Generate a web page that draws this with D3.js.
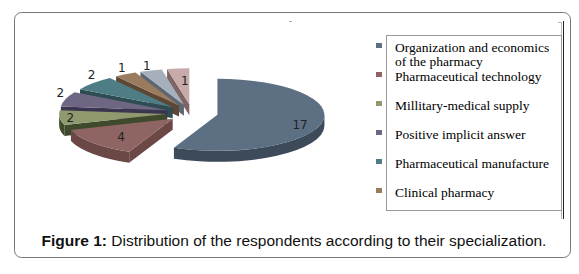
<!DOCTYPE html>
<html>
<head>
<meta charset="utf-8">
<script src="https://cdn.jsdelivr.net/npm/d3@7"></script>
<style>
  body { margin: 0; background: #fff; }
  svg { display: block; }
</style>
</head>
<body>
<svg id="chart" width="579" height="274"></svg>
<script>
// slice values, clockwise from 12 o'clock
var values = [17, 4, 2, 2, 2, 1, 1, 1];
// only the first six legend entries are visible in the figure
var legendLabels = [
  "Organization and economics of the pharmacy",
  "Pharmaceutical technology",
  "Millitary-medical supply",
  "Positive implicit answer",
  "Pharmaceutical manufacture",
  "Clinical pharmacy"
];
var topColors = ["#5d6f83", "#8f6563", "#8e9a6d", "#6e6683", "#4e7d85", "#9b7b5e", "#a6b0bd", "#c7aaa9"];
var sideColors = ["#3d4a5a", "#6b4846", "#3f4a2c", "#3b3550", "#2f4c52", "#5e4634", "#5d6673", "#7d6564"];
var captionBold = "Figure 1:";
var captionText = " Distribution of the respondents according to their specialization.";

var svg = d3.select("#chart");

// outer figure frame
svg.append("rect")
  .attr("x", 14.5).attr("y", 12.5)
  .attr("width", 556).attr("height", 245)
  .attr("rx", 7)
  .attr("fill", "none")
  .attr("stroke", "#777");

// edges of the pasted chart image
svg.append("line").attr("x1", 558).attr("x2", 561.5).attr("y1", 22.5).attr("y2", 22.5).attr("stroke", "#bbb");
svg.append("line").attr("x1", 561.5).attr("x2", 561.5).attr("y1", 22).attr("y2", 219).attr("stroke", "#bbb");
svg.append("line").attr("x1", 563.5).attr("x2", 563.5).attr("y1", 21).attr("y2", 219).attr("stroke", "#222");
svg.append("line").attr("x1", 289).attr("x2", 292).attr("y1", 21.5).attr("y2", 21.5).attr("stroke", "#aaa");

// 3d exploded pie
var rx = 107, ry = 36, depth = 11, cx = 192, cy = 113, explode = 26;
var k = ry / rx;
// label placement along each slice's mid direction (x and y factors)
var labelFx = [0.79, 0.65, 0.9, 1.05, 1.02, 1.07, 1.12, 0.4];
var labelFy = [1.36, 0.76, 0.9, 1.6, 1.33, 1.2, 1.13, 0.65];

var arcs = d3.pie().sort(null).startAngle(0).endAngle(2 * Math.PI)(values);

function rim(tip, a, fx, fy) {
  fx = fx == null ? 1 : fx;
  fy = fy == null ? fx : fy;
  return [tip[0] + fx * rx * Math.sin(a), tip[1] - fy * ry * Math.cos(a)];
}
function down(p) { return [p[0], p[1] + depth]; }

arcs.forEach(function (d, i) {
  var m = (d.startAngle + d.endAngle) / 2;
  d.index = i;
  d.mid = m;
  d.tip = [cx + explode * Math.sin(m), cy - explode * k * Math.cos(m)];
  d.order = rim(d.tip, m, 0.5)[1];
});

var pieG = svg.append("g");

arcs.slice().sort(function (a, b) { return a.order - b.order; }).forEach(function (d) {
  var g = pieG.append("g");
  var a0 = d.startAngle, a1 = d.endAngle, tip = d.tip;
  var p0 = rim(tip, a0), p1 = rim(tip, a1);

  // outer wall on the front half
  var b0 = Math.max(a0, Math.PI / 2), b1 = Math.min(a1, 3 * Math.PI / 2);
  if (b1 > b0) {
    var q0 = rim(tip, b0), q1 = rim(tip, b1);
    g.append("path")
      .attr("d", "M" + q0 + "A" + rx + "," + ry + " 0 0 1 " + q1 +
        "L" + down(q1) + "A" + rx + "," + ry + " 0 0 0 " + down(q0) + "Z")
      .attr("fill", sideColors[d.index]);
  }
  // flat faces of the cut
  if (Math.sin(a0) < -1e-6) {
    g.append("path")
      .attr("d", "M" + tip + "L" + p0 + "L" + down(p0) + "L" + down(tip) + "Z")
      .attr("fill", sideColors[d.index]);
  }
  if (Math.sin(a1) > 1e-6) {
    g.append("path")
      .attr("d", "M" + tip + "L" + p1 + "L" + down(p1) + "L" + down(tip) + "Z")
      .attr("fill", sideColors[d.index]);
  }
  // top face
  var large = a1 - a0 > Math.PI ? 1 : 0;
  g.append("path")
    .attr("d", "M" + tip + "L" + p0 + "A" + rx + "," + ry + " 0 " + large + " 1 " + p1 + "Z")
    .attr("fill", topColors[d.index]);
});

// value labels
svg.append("g")
  .selectAll("text")
  .data(arcs)
  .join("text")
  .attr("x", function (d) { return rim(d.tip, d.mid, labelFx[d.index], labelFy[d.index])[0]; })
  .attr("y", function (d) { return rim(d.tip, d.mid, labelFx[d.index], labelFy[d.index])[1]; })
  .attr("dy", "0.35em")
  .attr("text-anchor", "middle")
  .attr("font-family", "DejaVu Sans, sans-serif")
  .attr("font-size", 12)
  .attr("fill", "#222")
  .text(function (d) { return d.data; });

// legend
svg.append("rect")
  .attr("x", 386.5).attr("y", 35.5)
  .attr("width", 175).attr("height", 175)
  .attr("fill", "none")
  .attr("stroke", "#999");

var row = d3.scaleLinear().domain([0, 1]).range([52, 81]);

var legend = svg.append("g")
  .selectAll("g")
  .data(legendLabels)
  .join("g")
  .attr("transform", function (d, i) { return "translate(0," + row(i) + ")"; });

legend.append("rect")
  .attr("x", 376).attr("y", -9)
  .attr("width", 6).attr("height", 5)
  .attr("fill", function (d, i) { return topColors[i]; });

legend.append("text")
  .attr("x", 395)
  .attr("font-family", "Liberation Serif, Times New Roman, serif")
  .attr("font-size", 13.5)
  .attr("fill", "#000")
  .each(function (d) {
    var t = d3.select(this);
    var words = d.split(" "), line = [];
    var tspan = t.append("tspan").attr("x", 395).attr("dy", 0);
    words.forEach(function (w) {
      line.push(w);
      tspan.text(line.join(" "));
      if (tspan.node().getComputedTextLength() > 162 && line.length > 1) {
        line.pop();
        tspan.text(line.join(" "));
        line = [w];
        tspan = t.append("tspan").attr("x", 395).attr("dy", 14).text(w);
      }
    });
  });

// caption
var cap = svg.append("text")
  .attr("x", 294).attr("y", 246)
  .attr("text-anchor", "middle")
  .attr("font-family", "Liberation Sans, Arial, sans-serif")
  .attr("font-size", 15.5)
  .attr("fill", "#111");
cap.append("tspan").attr("font-weight", "bold").text(captionBold);
cap.append("tspan").text(captionText);
</script>
</body>
</html>
